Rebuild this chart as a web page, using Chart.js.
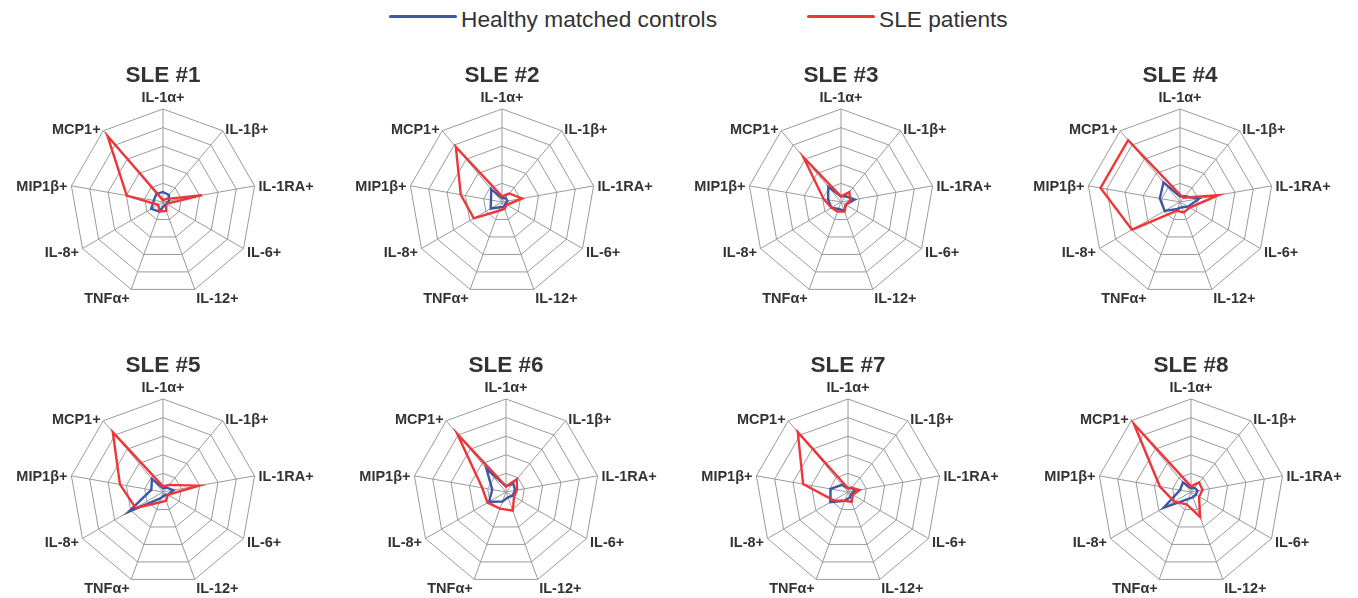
<!DOCTYPE html>
<html>
<head>
<meta charset="utf-8">
<script src="https://cdn.jsdelivr.net/npm/chart.js@4/dist/chart.umd.min.js"></script>
<style>
  html, body { margin: 0; padding: 0; background: #fff; overflow: hidden; }
  body { width: 1358px; height: 598px; position: relative; font-family: "Liberation Sans", Arial, sans-serif; }
  .panel { position: absolute; }
  .key { position: absolute; top: 7px; height: 24px; line-height: 24px; font-size: 22.7px; color: #333; }
  .swatch { position: absolute; top: 15px; height: 3px; border-radius: 2px; }
</style>
</head>
<body>

<!-- shared legend -->
<div class="swatch" style="left:389px; width:68px; background:#3f56a6;"></div>
<div class="key" style="left:461px;">Healthy matched controls</div>
<div class="swatch" style="left:807px; width:68px; background:#ee3538;"></div>
<div class="key" style="left:879px;">SLE patients</div>

<script>
// ===== DATA =====
const cytokines = ["IL-1α+", "IL-1β+", "IL-1RA+", "IL-6+", "IL-12+", "TNFα+", "IL-8+", "MIP1β+", "MCP1+"];
const panelTitles = ["SLE #1", "SLE #2", "SLE #3", "SLE #4", "SLE #5", "SLE #6", "SLE #7", "SLE #8"];
const scaleMax = 50;
const scaleStep = 10;

const controls1 = [5.4, 5, 3.2, 2, 2, 5.5, 7.3, 5, 5.6];
const patients1 = [1, 2, 21.4, 2, 5.1, 5.4, 3, 19.8, 46.4];
const controls2 = [2, 3, 3, 2, 3, 3, 7, 6, 9];
const patients2 = [3, 6, 11, 3, 4, 5, 17.5, 22.5, 38.6];
const controls3 = [3, 4, 7.5, 3, 5, 4, 6, 7, 10.6];
const patients3 = [3, 7, 5, 3, 5.5, 5.5, 6, 9.5, 31.4];
const controls4 = [3, 4, 10.4, 5, 3, 4, 9.5, 11, 13.8];
const patients4 = [4, 3, 21, 6, 6, 5, 29.8, 43.4, 43.4];
const controls5 = [2, 3, 5.7, 3, 2, 3.5, 21.4, 6.4, 9.2];
const patients5 = [3, 5, 19.6, 3, 5, 6, 17, 23.5, 42];
const controls6 = [3, 6, 5, 4, 3, 5.4, 10.5, 7.5, 16.4];
const patients6 = [3, 9, 6, 5, 10.7, 9.5, 11.5, 13, 40.8];
const controls7 = [2, 3, 3.6, 2, 3, 5, 11, 9.5, 5];
const patients7 = [2, 3, 6.3, 3, 5.7, 5, 9, 24.5, 42];
const controls8 = [2, 3, 3.6, 3, 3, 4, 17, 6, 6.7];
const patients8 = [3, 6.8, 6.3, 5, 14.3, 7, 10.4, 17, 47.7];

const controlSets = [controls1, controls2, controls3, controls4, controls5, controls6, controls7, controls8];
const patientSets = [patients1, patients2, patients3, patients4, patients5, patients6, patients7, patients8];

// ===== LAYOUT =====
const centersX = [163, 502, 841, 1180, 163, 506, 848, 1191];
const panelTops = [62, 62, 62, 62, 352, 352, 352, 352];
const W = 336, H = 252;
const AREA = 187;          // radar box -> radius ~93px

const BLUE = "#3f56a6";
const RED = "#ee3538";
const FONT = "'Liberation Sans', Arial, sans-serif";

// axis labels placed like the original (side labels centred on the spoke end)
const spokeLabels = {
  id: "spokeLabels",
  afterDraw(chart) {
    const s = chart.scales.r;
    const ctx = chart.ctx;
    ctx.save();
    ctx.font = "bold 14.5px " + FONT;
    ctx.fillStyle = "#333";
    chart.data.labels.forEach((txt, i) => {
      const deg = Math.round(i * 360 / chart.data.labels.length);
      const p = s.getPointPosition(i, s.drawingArea + 4);
      let dy = 0;
      ctx.textAlign = deg === 0 || deg === 180 ? "center" : (deg < 180 ? "left" : "right");
      if (deg === 0) ctx.textBaseline = "bottom";
      else if (deg > 150 && deg < 210) { ctx.textBaseline = "top"; dy = -1; }
      else { ctx.textBaseline = "middle"; dy = 2; }
      ctx.fillText(txt, p.x, p.y + dy);
    });
    ctx.restore();
  }
};

function makeRadar(i) {
  const cv = document.createElement("canvas");
  cv.className = "panel";
  cv.width = W;
  cv.height = H;
  cv.style.left = (centersX[i] - W / 2) + "px";
  cv.style.top = panelTops[i] + "px";
  cv.style.width = W + "px";
  cv.style.height = H + "px";
  document.body.appendChild(cv);

  const side = (W - AREA) / 2;
  const titleBox = 22.5 * 1.2 + 20;

  new Chart(cv, {
    type: "radar",
    data: {
      labels: cytokines,
      datasets: [
        {
          label: "SLE patients",
          data: patientSets[i],
          borderColor: RED,
          borderWidth: 2.4,
          fill: false,
          pointRadius: 0,
          order: 0
        },
        {
          label: "Healthy matched controls",
          data: controlSets[i],
          borderColor: BLUE,
          borderWidth: 2.4,
          fill: false,
          pointRadius: 0,
          order: 1
        }
      ]
    },
    options: {
      responsive: false,
      animation: false,
      events: [],
      layout: { padding: { left: side, right: side, top: 0, bottom: H - titleBox - AREA } },
      elements: { line: { tension: 0, borderJoinStyle: "miter" } },
      plugins: {
        legend: { display: false },
        tooltip: { enabled: false },
        title: {
          display: true,
          text: panelTitles[i],
          color: "#333",
          font: { family: FONT, size: 22.5, weight: "bold", lineHeight: 1.2 },
          padding: { top: 0, bottom: 20 }
        }
      },
      scales: {
        r: {
          min: 0,
          max: scaleMax,
          ticks: { display: false, stepSize: scaleStep },
          grid: { color: "#9a9a9a", lineWidth: 1 },
          angleLines: { color: "#9a9a9a", lineWidth: 1 },
          pointLabels: { display: false }
        }
      }
    },
    plugins: [spokeLabels]
  });
}

document.addEventListener("DOMContentLoaded", () => {
  for (let i = 0; i < 8; i++) makeRadar(i);
});
</script>
</body>
</html>
